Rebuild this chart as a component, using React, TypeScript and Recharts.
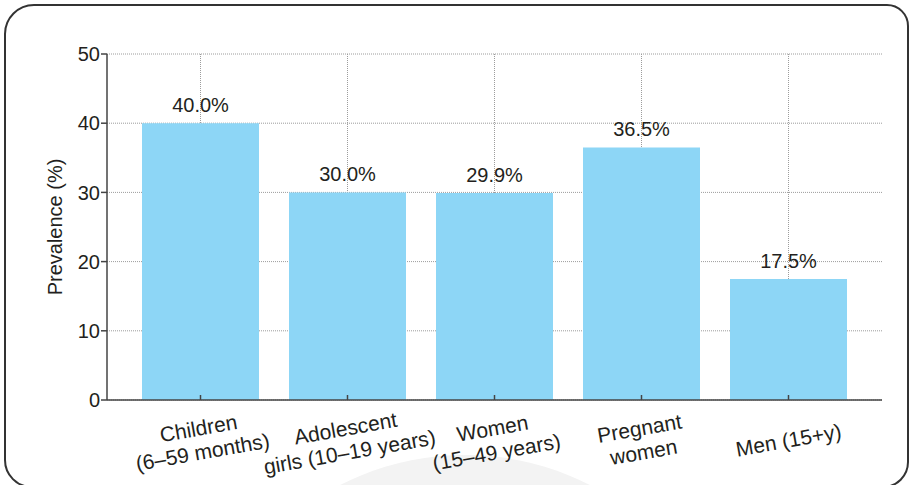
import { BarChart, Bar, XAxis, YAxis, CartesianGrid, LabelList } from 'recharts';

// groups shown on the x axis (line breaks kept as in the figure)
const categories = [
  'Children\n(6–59 months)',
  'Adolescent\ngirls (10–19 years)',
  'Women\n(15–49 years)',
  'Pregnant\nwomen',
  'Men (15+y)',
];

// prevalence in %
const prevalence = [40.0, 30.0, 29.9, 36.5, 17.5];

const yTicks = [0, 10, 20, 30, 40, 50];

const BAR_COLOR = '#8dd6f6';
const TEXT_COLOR = '#231f20';
const AXIS_COLOR = '#444';
const FONT = '"Liberation Sans", Arial, Helvetica, sans-serif';
const X_PAD = 20;

const data = categories.map((name, i) => ({ name, value: prevalence[i] }));

// rotated, multi-line category label plus a small inward tick mark
function CategoryTick(props: any) {
  const { x, y, payload } = props;
  const lines = String(payload.value).split('\n');
  const lineHeight = 24;
  const cy = y + 40;
  return (
    <g>
      <line x1={x} y1={y} x2={x} y2={y - 5} stroke={AXIS_COLOR} strokeWidth={1.5} />
      <g transform={`translate(${x},${cy}) rotate(-10)`}>
        {lines.map((line, i) => (
          <text
            key={i}
            x={0}
            y={(i - (lines.length - 1) / 2) * lineHeight}
            textAnchor="middle"
            dominantBaseline="central"
            fontSize={21}
            fontFamily={FONT}
            fill={TEXT_COLOR}
          >
            {line}
          </text>
        ))}
      </g>
    </g>
  );
}

// vertical grid only through the category centres (no lines at the plot edges)
const verticalGrid = ({ offset }: any) => {
  const band = (offset.width - 2 * X_PAD) / categories.length;
  return categories.map((_, i) => offset.left + X_PAD + band * (i + 0.5));
};

export default function App() {
  return (
    <div
      style={{
        position: 'absolute',
        left: 0,
        top: 0,
        width: 910,
        height: 485,
        overflow: 'hidden',
        background: '#fff',
      }}
    >
      {/* faint watermark behind the chart */}
      <div
        style={{
          position: 'absolute',
          left: 190,
          top: 455,
          width: 550,
          height: 550,
          borderRadius: '50%',
          background: '#f3f3f3',
        }}
      />
      {/* rounded frame */}
      <div
        style={{
          position: 'absolute',
          left: 4,
          top: 4,
          width: 905,
          height: 484,
          boxSizing: 'border-box',
          border: '2px solid #333',
          borderRadius: '30px 22px 26px 28px',
        }}
      />
      <div style={{ position: 'absolute', left: 0, top: 0 }}>
        <BarChart
          width={910}
          height={485}
          data={data}
          margin={{ top: 54, right: 28, left: 0, bottom: 0 }}
          style={{ fontFamily: FONT }}
        >
          <CartesianGrid
            stroke="#9c9c9c"
            strokeDasharray="1 1"
            verticalCoordinatesGenerator={verticalGrid}
          />
          <XAxis
            dataKey="name"
            height={85}
            padding={{ left: X_PAD, right: X_PAD }}
            axisLine={{ stroke: AXIS_COLOR, strokeWidth: 1.5 }}
            tickLine={false}
            tickSize={0}
            tickMargin={0}
            interval={0}
            tick={<CategoryTick />}
          />
          <YAxis
            width={107}
            domain={[0, 50]}
            ticks={yTicks}
            axisLine={{ stroke: AXIS_COLOR, strokeWidth: 1.5 }}
            tickLine={{ stroke: AXIS_COLOR, strokeWidth: 1.5 }}
            tickSize={6}
            tickMargin={1}
            tick={{ fontSize: 20, fill: TEXT_COLOR, fontFamily: FONT }}
            label={{
              content: (p: any) => {
                const vb = p.viewBox || {};
                const cx = 55;
                const cy = (vb.y ?? 54) + (vb.height ?? 346) / 2;
                return (
                  <text
                    x={cx}
                    y={cy}
                    transform={`rotate(-90 ${cx} ${cy})`}
                    textAnchor="middle"
                    dominantBaseline="central"
                    fontSize={20}
                    fontFamily={FONT}
                    fill={TEXT_COLOR}
                  >
                    Prevalence (%)
                  </text>
                );
              },
            }}
          />
          <Bar dataKey="value" fill={BAR_COLOR} barSize={117} isAnimationActive={false}>
            <LabelList
              dataKey="value"
              position="top"
              offset={11}
              formatter={(v: any) => `${Number(v).toFixed(1)}%`}
              style={{ fontSize: 20, fill: TEXT_COLOR, fontFamily: FONT }}
            />
          </Bar>
        </BarChart>
      </div>
    </div>
  );
}
